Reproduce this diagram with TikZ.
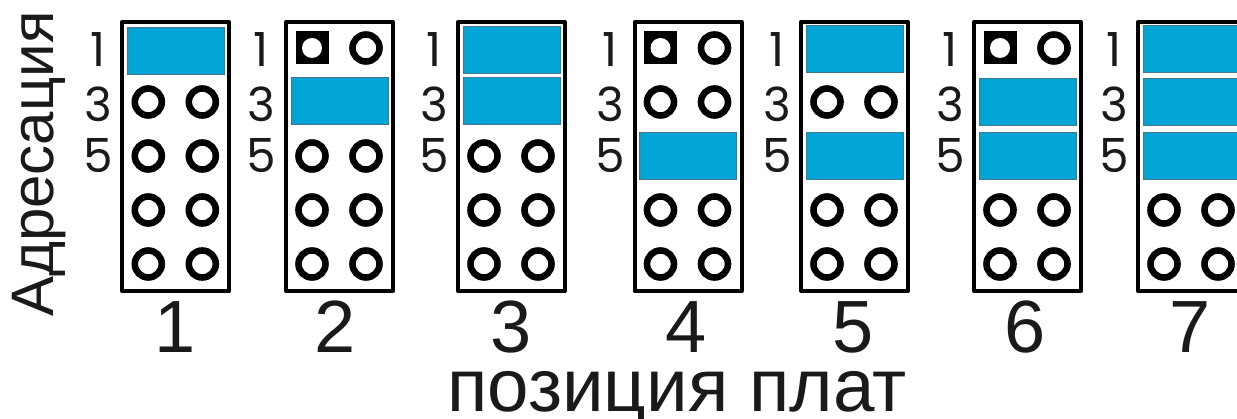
\documentclass[tikz,border=0pt]{standalone}
\usepackage{fontspec}
\setmainfont{Liberation Sans}
\newfontfamily\digfont{Poppins}
\definecolor{jumperblue}{RGB}{0,165,214}
\definecolor{jumperedge}{RGB}{70,120,140}
\definecolor{inktext}{RGB}{26,26,26}
\tikzset{
  board/.style={rectangle,draw=black,line width=4pt,line join=round,fill=white,minimum width=107pt,minimum height=269pt,inner sep=0pt,outer sep=0pt,anchor=north west},
  pin/.style={circle,draw=black,line width=6.6pt,fill=white,minimum size=27pt,inner sep=0pt,outer sep=0pt},
  sqpin/.style={rectangle,fill=black,minimum size=33pt,inner sep=0pt,outer sep=0pt},
  sqhole/.style={circle,fill=white,minimum size=20pt,inner sep=0pt,outer sep=0pt},
  jumper/.style={rectangle,draw=jumperedge,line width=0.7pt,fill=jumperblue,minimum width=97pt,minimum height=46.5pt,inner sep=0pt,outer sep=0pt},
  addr/.style={font=\digfont\fontsize{47}{47}\selectfont,text=inktext,inner sep=0pt,anchor=center},
  posn/.style={font=\fontsize{74}{74}\selectfont,text=inktext,inner sep=0pt,anchor=center},
  axis/.style={font=\fontsize{60}{60}\selectfont,text=inktext,inner sep=0pt,anchor=center},
  axisb/.style={font=\fontsize{74.5}{74.5}\selectfont,text=inktext,inner sep=0pt,anchor=base},
}
% #1 name, #2 board left, #3 x of address digits, #4 centre x of number, #5 number
% #6 #7 #8: y centre of the jumper on rows 1, 3, 5 (0 = no jumper, pins instead)
\newcommand{\pcbboard}[8]{%
  \node[board] (b#1) at (#2,22) {};
  \foreach \row/\yy/\has in {1/48/#6,3/102/#7,5/156/#8}{%
    \ifnum\has>0
      \node[jumper] (j#1r\row) at (#2+53.5,\has) {};
    \else
      \ifnum\row=1
        \node[sqpin] (p#1s) at (#2+26,\yy) {};
        \node[sqhole] (p#1h) at (#2+26,\yy) {};
      \else
        \node[pin] (p#1l\row) at (#2+26,\yy) {};
      \fi
      \node[pin] (p#1r\row) at (#2+80,\yy) {};
    \fi
  }
  \foreach \yy/\nn in {210/7,264/9}{%
    \node[pin] (p#1l\nn) at (#2+26,\yy) {};
    \node[pin] (p#1r\nn) at (#2+80,\yy) {};
  }
  \node[addr] (a#1x1) at (#3,50) {1};
  \node[addr] (a#1x3) at (#3,104) {3};
  \node[addr] (a#1x5) at (#3,156) {5};
  \node[posn] (n#1) at (#4,327) {#5};
}
\begin{document}
\begin{tikzpicture}[x=1pt,y=-1pt]
\useasboundingbox (0,0) rectangle (1237,419);
\pcbboard{a}{122.3}{98}{175}{1}{51}{0}{0}
\pcbboard{b}{286}{261}{335}{2}{0}{101}{0}
\pcbboard{c}{458}{434}{511}{3}{50}{101}{0}
\pcbboard{d}{634.5}{610}{686}{4}{0}{0}{156}
\pcbboard{e}{801}{777}{853}{5}{49}{0}{156}
\pcbboard{f}{974}{950}{1025}{6}{0}{102}{156}
\pcbboard{g}{1138}{1114}{1190}{7}{49}{102}{156}
\node[axisb] (xlabel) at (677,412) {позиция плат};
\node[axis,rotate=90] (ylabel) at (39,164) {Адресация};
\end{tikzpicture}
\end{document}
